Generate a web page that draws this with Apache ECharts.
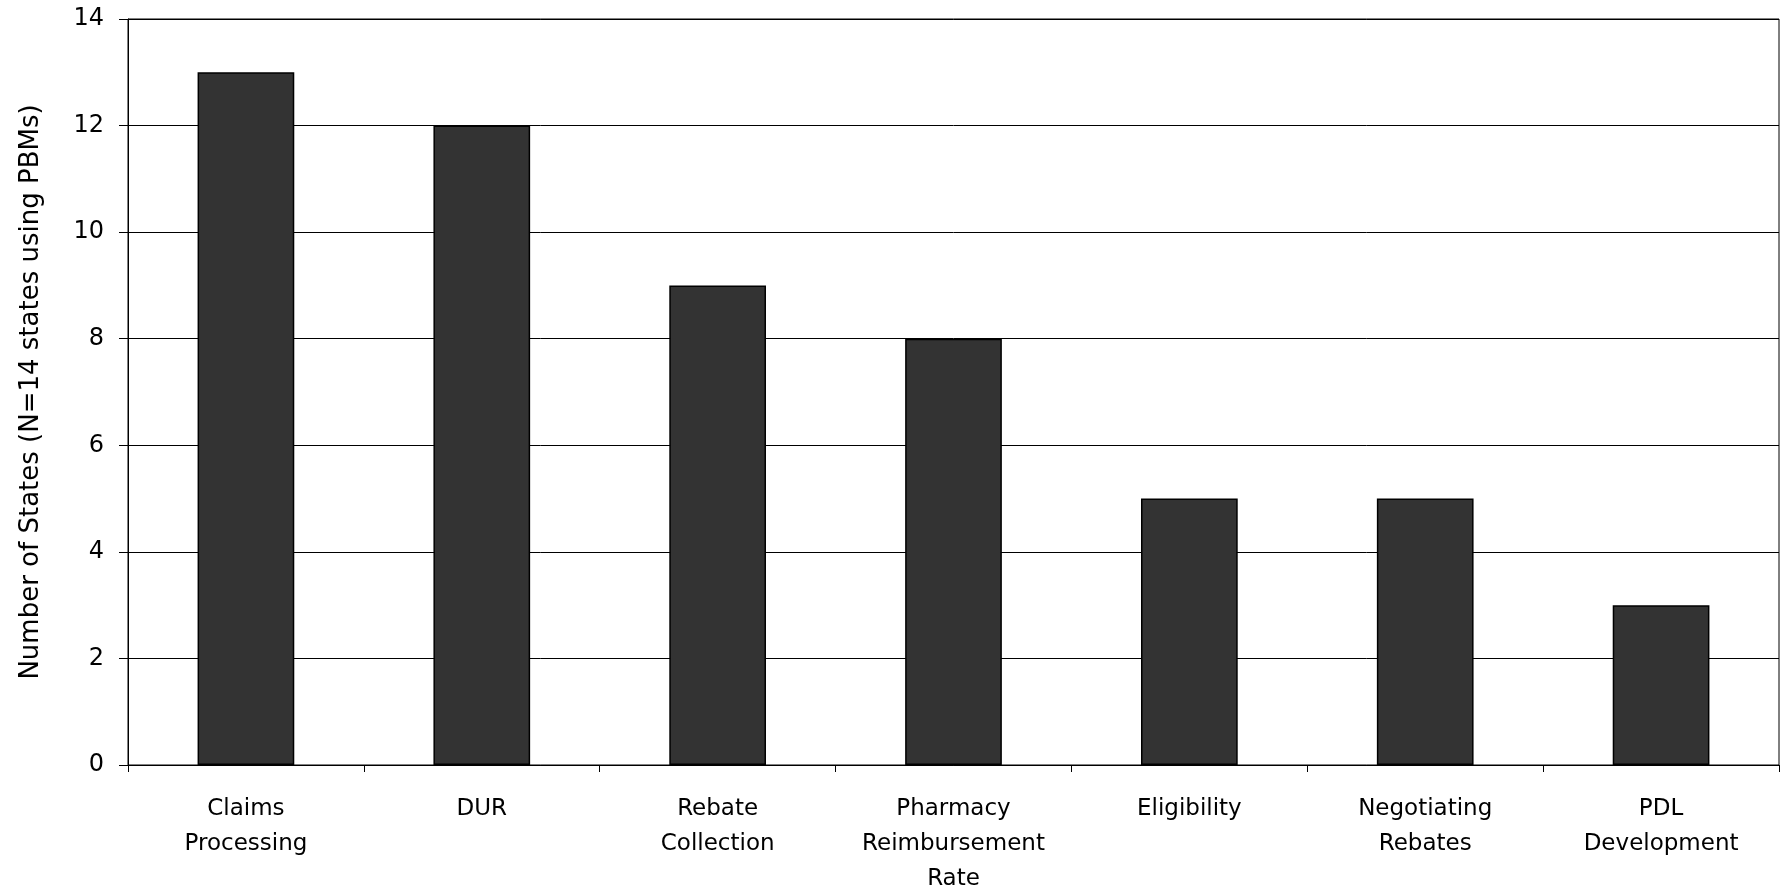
<!DOCTYPE html>
<html>
<head>
<meta charset="utf-8">
<script src="https://cdn.jsdelivr.net/npm/echarts@6/dist/echarts.min.js"></script>
<style>
html,body{margin:0;padding:0;background:#fff;}
#chart{width:1784px;height:890px;}
</style>
</head>
<body>
<div id="chart"></div>
<script>
const categories = ['Claims\nProcessing', 'DUR', 'Rebate\nCollection', 'Pharmacy\nReimbursement\nRate', 'Eligibility', 'Negotiating\nRebates', 'PDL\nDevelopment'];
const values = [13, 12, 9, 8, 5, 5, 3];
const yTitle = 'Number of States (N=14 states using PBMs)';
const yMin = 0, yMax = 14, yStep = 2;

const font = 'DejaVu Sans';
const chart = echarts.init(document.getElementById('chart'), null, {renderer: 'canvas'});
chart.setOption({
  animation: false,
  backgroundColor: '#fff',
  grid: {left: 128, right: 5, top: 19, bottom: 125, show: true, borderColor: '#000', borderWidth: 1, containLabel: false, outerBoundsMode: 'none'},
  xAxis: {
    type: 'category',
    data: categories,
    axisLine: {lineStyle: {color: '#000', width: 1}},
    axisTick: {show: true, length: 7, lineStyle: {color: '#000'}},
    axisLabel: {color: '#000', fontFamily: font, fontSize: 23, lineHeight: 35, margin: 27, interval: 0}
  },
  yAxis: {
    type: 'value',
    min: yMin, max: yMax, interval: yStep,
    name: yTitle,
    nameLocation: 'middle',
    nameGap: 84,
    nameTextStyle: {color: '#000', fontFamily: font, fontSize: 26},
    axisLine: {show: true, lineStyle: {color: '#000', width: 1}},
    axisTick: {show: true, length: 9, lineStyle: {color: '#000'}},
    axisLabel: {color: '#000', fontFamily: font, fontSize: 24, margin: 24},
    splitLine: {show: true, lineStyle: {color: '#000', width: 1}}
  },
  series: [{
    type: 'bar',
    data: values,
    barWidth: '41%',
    itemStyle: {color: '#333333', borderColor: '#000', borderWidth: 1.5}
  }]
});
</script>
</body>
</html>
